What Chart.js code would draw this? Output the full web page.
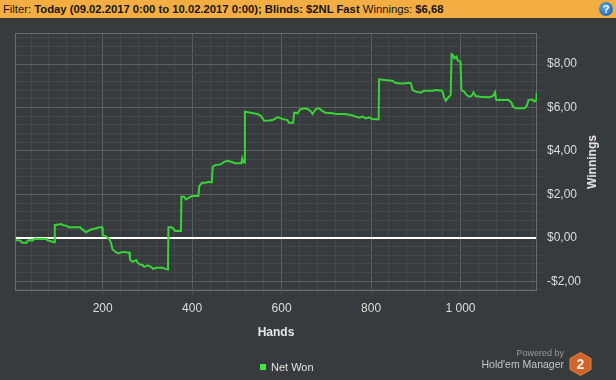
<!DOCTYPE html>
<html>
<head>
<meta charset="utf-8">
<script src="https://cdn.jsdelivr.net/npm/chart.js@4.4.1/dist/chart.umd.min.js"></script>
<style>
html, body { margin: 0; padding: 0; width: 616px; height: 380px; overflow: hidden; background: #383b3e; font-family: "Liberation Sans", Arial, sans-serif; }
#cabecera { position: absolute; left: 0; top: 0; width: 616px; height: 18px; background: #f4ad43; color: #151515; font-size: 11.25px; line-height: 19px; white-space: nowrap; z-index: 2; }
#cabecera .txt { padding-left: 3px; }
#ayuda { position: absolute; right: 3px; top: 2px; width: 14px; height: 14px; border-radius: 50%; background: radial-gradient(circle at 40% 35%, #5aa6e8, #0f5aa3); color: #fff; font-weight: bold; font-size: 11px; line-height: 14px; text-align: center; }
#grafico { position: absolute; left: 0; top: 0; }
#tituloY { position: absolute; left: 592px; top: 162px; transform: translate(-50%, -50%) rotate(-90deg); color: #e4e4e4; font-weight: bold; font-size: 12px; white-space: nowrap; }
#leyenda { position: absolute; left: 260px; top: 360px; color: #e2e2e2; font-size: 11px; line-height: 14px; white-space: nowrap; }
#leyenda i { display: inline-block; width: 6px; height: 6px; background: #3bea3b; margin-right: 5px; vertical-align: 1px; }
#powered { position: absolute; right: 52px; top: 348px; color: #9a9a9a; font-size: 9px; line-height: 11px; text-align: right; white-space: nowrap; }
#marca { position: absolute; right: 52px; top: 358px; color: #c4c4c4; font-size: 10.5px; line-height: 13px; text-align: right; white-space: nowrap; }
#hex { position: absolute; left: 569px; top: 352px; }
</style>
</head>
<body>
<div id="cabecera"><span class="txt">Filter: <b>Today (09.02.2017 0:00 to 10.02.2017 0:00); Blinds: $2NL Fast</b> Winnings: <b>$6,68</b></span><span id="ayuda">?</span></div>
<canvas id="grafico" width="616" height="380"></canvas>
<div id="tituloY">Winnings</div>
<div id="leyenda"><i></i>Net Won</div>
<div id="powered">Powered by</div>
<div id="marca">Hold'em Manager</div>
<svg id="hex" width="23" height="24" viewBox="0 0 23 24">
  <polygon points="11.5,0.5 22,6.5 22,17.5 11.5,23.5 1,17.5 1,6.5" fill="#d0652b" stroke="#e0834a" stroke-width="1"/>
  <text x="11.5" y="17" text-anchor="middle" font-family="Liberation Sans, Arial" font-weight="bold" font-size="14" fill="#f3ede6">2</text>
</svg>
<script>
// manos (eje x) y ganancia acumulada en $
const hands = [5, 14, 18, 20, 30, 32, 36, 39, 41, 44, 47, 75, 76, 80, 88, 92, 93, 108, 112, 120,
  124, 150, 152, 159, 163, 168, 174, 184, 192, 199, 200, 206, 211, 215, 219, 222, 228, 234, 240, 245,
  256, 260, 261, 267, 275, 278, 284, 290, 293, 301, 308, 313, 319, 334, 340, 346, 347, 354, 359, 362,
  375, 376, 382, 386, 394, 400, 414, 416, 422, 431, 436, 444, 446, 452, 464, 472, 479, 487, 496, 510,
  512, 515, 517, 518, 531, 546, 554, 561, 572, 580, 591, 595, 602, 613, 616, 626, 628, 636, 641, 652,
  660, 666, 669, 677, 684, 690, 698, 714, 721, 740, 755, 766, 774, 781, 788, 796, 803, 817, 818, 830,
  848, 854, 863, 874, 885, 889, 893, 900, 911, 918, 937, 945, 959, 963, 967, 973, 978, 980, 983, 986,
  991, 994, 1000, 1002, 1008, 1014, 1019, 1025, 1029, 1034, 1045, 1064, 1073, 1077, 1080, 1094, 1107, 1114, 1117, 1124,
  1143, 1148, 1152, 1161, 1165, 1169, 1170];
const netWon = [-0.11, -0.11, -0.18, -0.23, -0.23, -0.15, -0.11, -0.14, -0.08, -0.12, -0.05, -0.06, -0.11, -0.14, -0.18, -0.21, 0.58, 0.63, 0.58, 0.55,
  0.48, 0.48, 0.43, 0.32, 0.25, 0.32, 0.38, 0.43, 0.48, 0.48, 0.12, 0.08, 0.0, -0.06, -0.26, -0.54, -0.63, -0.72, -0.68, -0.65,
  -0.68, -0.68, -1.0, -1.11, -1.03, -1.14, -1.23, -1.26, -1.34, -1.27, -1.34, -1.43, -1.38, -1.38, -1.43, -1.46, 0.48, 0.48, 0.40, 0.31,
  0.31, 1.89, 1.89, 1.77, 1.86, 1.92, 1.92, 2.38, 2.53, 2.53, 2.58, 2.55, 3.27, 3.35, 3.38, 3.50, 3.55, 3.50, 3.43, 3.43,
  3.66, 3.47, 3.47, 5.81, 5.76, 5.70, 5.61, 5.39, 5.40, 5.42, 5.55, 5.53, 5.47, 5.42, 5.30, 5.30, 5.76, 5.73, 5.91, 5.96,
  5.91, 5.81, 5.70, 5.93, 5.96, 5.85, 5.76, 5.73, 5.70, 5.70, 5.65, 5.58, 5.53, 5.58, 5.50, 5.55, 5.47, 5.45, 7.30, 7.27,
  7.23, 7.14, 7.11, 7.11, 7.14, 7.11, 6.80, 6.73, 6.68, 6.77, 6.77, 6.80, 6.77, 6.50, 6.31, 6.47, 6.57, 8.46, 8.42, 8.26,
  8.34, 8.16, 8.11, 6.80, 6.73, 6.57, 6.50, 6.53, 6.70, 6.53, 6.50, 6.47, 6.53, 6.70, 6.34, 6.34, 6.34, 6.22, 6.04, 5.96,
  5.96, 6.07, 6.34, 6.37, 6.27, 6.34, 6.68];

const handsRange = [4, 1171];
const winRange = [-2.45, 9.43];
const handsLabelStep = 200;
const winLabelStep = 2;

const colorMenor = '#45484b';
const colorMayor = '#5c5f62';
const colorBorde = '#696c6f';
const fuente = 'Liberation Sans';

const esMultiplo = (v, m) => Math.abs(v / m - Math.round(v / m)) < 1e-6;

const formatoManos = v => String(Math.round(v)).replace(/\B(?=(\d{3})+(?!\d))/g, ' ');
const formatoDinero = v => (v < 0 ? '-' : '') + '$' + Math.abs(v).toFixed(2).replace('.', ',');

// marco completo del area de trazado
const marcoPlot = {
  id: 'marcoPlot',
  beforeDatasetsDraw(chart) {
    const { ctx, chartArea: a } = chart;
    ctx.save();
    ctx.strokeStyle = colorBorde;
    ctx.lineWidth = 1;
    ctx.strokeRect(Math.round(a.left) + 0.5, Math.round(a.top) + 0.5, Math.round(a.right - a.left) - 1, Math.round(a.bottom - a.top) - 1);
    ctx.restore();
  }
};

const Grafico = document.getElementById('grafico').getContext('2d');

window.graficaGanancias = new Chart(Grafico, {
  type: 'line',
  data: {
    datasets: [{
      label: 'Net Won',
      data: hands.map((h, i) => ({ x: h, y: netWon[i] })),
      borderColor: '#37d337',
      borderWidth: 2,
      pointRadius: 0,
      tension: 0,
      fill: false
    }]
  },
  options: {
    responsive: false,
    animation: false,
    devicePixelRatio: 1,
    layout: { padding: { top: 33, left: 15, right: 0, bottom: 0 } },
    plugins: { legend: { display: false }, tooltip: { enabled: false } },
    scales: {
      x: {
        type: 'linear',
        min: handsRange[0],
        max: handsRange[1],
        afterFit(s) { s.height = 89; },
        border: { display: false },
        grid: {
          color: c => esMultiplo(c.tick.value, handsLabelStep) ? colorMayor : colorMenor,
          tickColor: colorMenor,
          tickLength: 4,
          tickWidth: 1,
          lineWidth: 1
        },
        ticks: {
          stepSize: 40,
          includeBounds: false,
          autoSkip: false,
          maxRotation: 0,
          padding: 6,
          color: '#dcdcdc',
          font: { family: fuente, size: 12 },
          callback: v => esMultiplo(v, handsLabelStep) ? formatoManos(v) : ''
        },
        title: {
          display: true,
          text: 'Hands',
          color: '#e6e6e6',
          font: { family: fuente, size: 12, weight: 'bold' },
          padding: { top: 0, bottom: 40 }
        }
      },
      y: {
        position: 'right',
        min: winRange[0],
        max: winRange[1],
        afterFit(s) { s.width = 79; },
        border: { display: false },
        grid: {
          color: c => c.tick.value === 0 ? '#ffffff' : (esMultiplo(c.tick.value, winLabelStep) ? colorMayor : colorMenor),
          lineWidth: c => c.tick.value === 0 ? 2 : 1,
          tickColor: colorMenor,
          tickLength: 5,
          tickWidth: 1
        },
        ticks: {
          stepSize: 0.4,
          includeBounds: false,
          autoSkip: false,
          padding: 5,
          color: '#dcdcdc',
          font: { family: fuente, size: 12 },
          callback: v => esMultiplo(v, winLabelStep) ? formatoDinero(v) : ''
        }
      }
    }
  },
  plugins: [marcoPlot]
});
</script>
</body>
</html>
